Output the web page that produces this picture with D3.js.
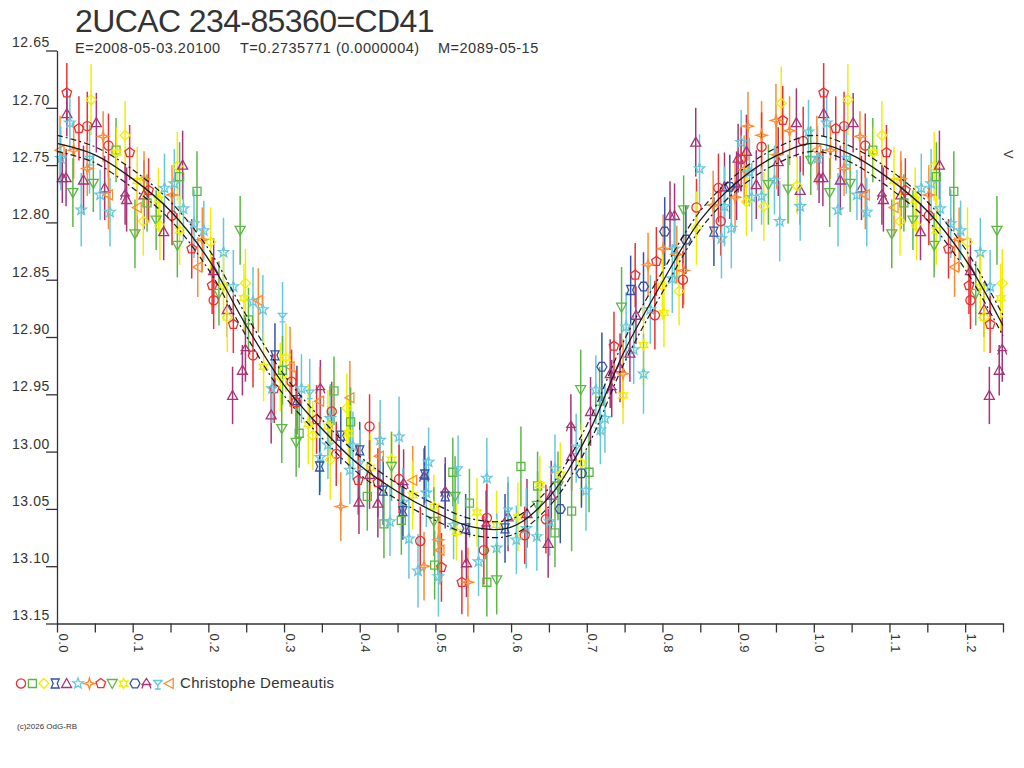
<!DOCTYPE html>
<html>
<head>
<meta charset="utf-8">
<script src="https://cdn.jsdelivr.net/npm/d3@7"></script>
<style>
body { margin: 0; background: #fff; }
text { font-family: "Liberation Sans", Arial, sans-serif; fill: #333; }
</style>
</head>
<body>
<div id="chart"></div>
<script>
// phase / magnitude / error / observation set, read off the picture
// phase 0.00 - 0.32
var phaseA = [.013,.045,.013,.017,.029,.040,.052,.061,.090,.068,
              .078,.079,.096,.022,.004,.005,.043,.040,.007,.012,
              .035,.048,.063,.057,.068,.090,.092,.021,.032,.070,
              .103,.106,.115,.115,.106,.121,.119,.114,.142,.134,
              .152,.155,.159,.166,.162,.185,.167,.152,.131,.136,
              .141,.159,.162,.178,.181,.203,.192,.242,.194,.186,
              .220,.207,.205,.249,.214,.220,.233,.207,.225,.225,
              .233,.247,.259,.266,.272,.298,.253,.249,.259,.288,
              .232,.245,.273,.287,.283,.295,.284,.317];
var magA = [12.687,12.693,12.705,12.713,12.718,12.716,12.713,12.725,12.724,12.733,
            12.737,12.739,12.739,12.737,12.737,12.744,12.745,12.753,12.761,12.761,
            12.763,12.766,12.770,12.776,12.776,12.776,12.780,12.774,12.789,12.791,
            12.810,12.787,12.776,12.762,12.764,12.772,12.783,12.799,12.770,12.780,
            12.776,12.766,12.751,12.750,12.760,12.773,12.788,12.794,12.798,12.803,
            12.808,12.820,12.807,12.823,12.801,12.817,12.815,12.807,12.807,12.839,
            12.826,12.842,12.855,12.853,12.862,12.856,12.856,12.868,12.876,12.883,
            12.889,12.866,12.869,12.868,12.876,12.882,12.885,12.911,12.916,12.916,
            12.951,12.929,12.926,12.945,12.968,12.935,12.945,12.955];
var errA = [.026,.031,.020,.024,.028,.030,.026,.022,.030,.028,
            .028,.022,.024,.025,.030,.028,.030,.024,.022,.025,
            .030,.025,.028,.022,.030,.026,.028,.030,.032,.030,
            .030,.025,.030,.024,.030,.028,.025,.030,.030,.028,
            .026,.030,.030,.030,.030,.035,.028,.026,.026,.030,
            .025,.028,.030,.026,.030,.030,.028,.030,.026,.026,
            .030,.028,.025,.030,.028,.030,.032,.025,.024,.030,
            .025,.030,.030,.028,.030,.030,.028,.028,.028,.028,
            .025,.022,.030,.030,.025,.030,.030,.030];
var setA = [7,2,4,5,7,0,4,6,2,0,
            1,9,7,6,13,5,12,6,4,4,
            4,8,4,5,13,11,4,8,5,5,
            8,13,4,6,9,7,1,2,5,9,
            6,5,2,4,1,1,5,0,8,2,
            4,8,9,7,5,2,6,8,5,13,
            5,4,7,2,8,9,5,0,4,2,
            7,9,5,13,5,12,1,11,0,3,
            4,4,9,7,4,2,5,3];

// phase 0.30 - 0.65
var phaseB = [.3025,.308,.298,.310,.323,.334,.316,.348,.366,.347,
              .387,.363,.383,.388,.361,.332,.343,.297,.320,.316,
              .338,.358,.413,.375,.385,.358,.391,.400,.427,.452,
              .348,.347,.369,.361,.387,.400,.426,.414,.442,.442,
              .491,.485,.486,.523,.530,.568,.613,.398,.413,.452,
              .458,.470,.424,.431,.410,.399,.424,.375,.470,.488,
              .513,.513,.526,.457,.457,.545,.498,.555,.455,.498,
              .432,.440,.524,.528,.540,.568,.567,.581,.596,.609,
              .621,.592,.596,.620,.618,.607,.634,.646,.635,.638,
              .635,.649,.465,.480,.504,.506,.508,.499,.485,.477,
              .504,.564,.581,.541,.557,.535,.543,.568,.581];
var magB = [12.918,12.926,12.929,12.939,12.945,12.949,12.957,12.945,12.947,12.956,
            12.953,12.965,12.962,12.974,12.971,12.976,12.972,12.980,12.984,12.992,
            12.986,12.978,12.978,12.986,12.984,12.994,12.995,12.999,12.990,12.987,
            13.005,13.013,13.002,13.007,13.016,13.011,13.004,13.014,13.007,13.013,
            13.009,13.022,13.020,13.018,13.016,13.023,13.013,13.025,13.020,13.024,
            13.028,13.025,13.027,13.034,13.039,13.044,13.045,13.048,13.038,13.036,
            13.035,13.039,13.039,13.044,13.052,13.045,13.048,13.053,13.060,13.061,
            13.063,13.061,13.064,13.070,13.067,13.058,13.064,13.064,13.057,13.057,
            13.054,13.067,13.052,13.067,13.073,13.077,13.074,13.059,13.030,13.029,
            13.047,13.080,13.076,13.078,13.077,13.086,13.101,13.099,13.100,13.104,
            13.109,13.086,13.084,13.097,13.096,13.114,13.114,13.114,13.112];
var errB = [.030,.035,.030,.028,.030,.030,.028,.025,.030,.030,
            .032,.026,.030,.030,.030,.035,.030,.030,.030,.030,
            .030,.032,.028,.025,.030,.030,.030,.025,.035,.035,
            .030,.025,.028,.035,.030,.030,.030,.030,.025,.030,
            .030,.025,.025,.030,.030,.035,.035,.030,.030,.030,
            .030,.030,.030,.030,.030,.028,.030,.030,.030,.030,
            .030,.028,.035,.030,.025,.030,.028,.030,.030,.030,
            .030,.030,.030,.025,.030,.030,.030,.030,.030,.030,
            .030,.030,.030,.035,.025,.030,.030,.030,.030,.025,
            .030,.030,.035,.030,.030,.030,.030,.030,.030,.032,
            .035,.030,.030,.030,.030,.028,.030,.030,.030];
var setB = [9,13,1,0,5,12,0,11,1,13,
            13,0,2,1,5,9,7,8,1,8,
            2,9,0,3,9,5,5,3,5,5,
            5,3,0,2,5,12,13,9,9,8,
            5,11,3,1,12,5,1,7,4,0,
            11,13,7,3,1,4,4,6,9,5,
            11,3,8,5,3,1,9,9,1,8,
            1,5,5,9,3,0,11,9,4,9,
            4,3,12,5,0,5,5,0,1,9,
            8,4,5,0,6,13,7,1,6,5,
            5,0,5,4,5,7,6,1,8];

// phase 0.65 - 0.85 (rising branch)
var phaseC = [.828,.816,.810,.845,.803,.845,.831,.816,.801,.819,
              .792,.781,.828,.827,.822,.813,.764,.800,.775,.758,
              .746,.802,.784,.765,.790,.752,.736,.775,.762,.757,
              .720,.775,.744,.748,.731,.733,.692,.712,.748,.717,
              .705,.724,.679,.718,.686,.680,.693,.703,.693,.658,
              .665,.699,.662,.653,.665,.680,.651,.658];
var magC = [12.789,12.794,12.794,12.787,12.808,12.805,12.815,12.823,12.823,12.828,
            12.834,12.837,12.842,12.850,12.860,12.849,12.846,12.855,12.856,12.859,
            12.874,12.879,12.876,12.881,12.881,12.891,12.908,12.907,12.911,12.914,
            12.926,12.932,12.927,12.932,12.932,12.945,12.946,12.946,12.951,12.956,
            12.965,12.971,12.978,12.981,12.997,13.004,13.010,13.018,13.019,13.015,
            13.020,13.034,13.030,13.038,13.050,13.052,13.061,13.071];
var errC = [.030,.028,.030,.025,.030,.032,.030,.028,.030,.025,
            .030,.028,.030,.025,.030,.030,.028,.030,.030,.030,
            .035,.030,.030,.025,.030,.030,.030,.035,.030,.025,
            .030,.035,.030,.030,.030,.025,.035,.030,.025,.030,
            .030,.030,.028,.030,.030,.030,.035,.035,.030,.030,
            .028,.035,.030,.030,.030,.035,.030,.030];
var setC = [8,4,4,0,10,2,10,5,6,6,
            7,6,6,0,2,5,7,2,10,3,
            8,9,5,4,0,5,7,9,5,4,
            10,5,4,6,4,11,8,5,9,1,
            4,5,11,5,12,4,9,1,10,5,
            9,5,8,4,10,1,5,1];

// phase 0.84 - 1.00 (maximum)
var phaseD = [.957,.959,.977,.950,.913,.968,.904,.931,.931,.911,
              .844,.900,.904,.953,.951,.986,.993,.908,.915,.996,
              .849,.898,.940,.924,.966,.982,.978,.874,.882,.889,
              .948,.918,.911,.896,.882,.934,.931,.982,.955,.877,
              .891,.878,.868,.867];
var magD = [12.696,12.711,12.713,12.711,12.716,12.720,12.730,12.724,12.734,12.738,
            12.730,12.744,12.745,12.747,12.741,12.729,12.721,12.754,12.756,12.746,
            12.753,12.768,12.767,12.767,12.771,12.772,12.768,12.770,12.769,12.769,
            12.763,12.778,12.782,12.778,12.786,12.786,12.777,12.786,12.799,12.799,
            12.805,12.814,12.808,12.785];
var errD = [.032,.030,.030,.032,.030,.030,.028,.030,.030,.032,
            .030,.030,.028,.030,.030,.030,.028,.030,.030,.030,
            .030,.030,.035,.030,.030,.030,.025,.030,.030,.028,
            .030,.030,.030,.030,.035,.030,.025,.030,.035,.030,
            .035,.035,.030,.030];
var setD = [2,7,4,6,6,6,5,6,0,4,
            4,4,0,4,6,0,5,13,5,8,
            5,11,8,4,8,4,2,0,4,10,
            5,5,2,6,5,2,5,5,5,0,
            5,5,3,6];

// fitted light curve and its band
var curvePhase = [0,.05,.10,.15,.20,.25,.30,.35,.40,.45,.50,.55,.60,.65,.70,.75,.80,.85,.90,.95,1.00];
var curveMag = [12.731,12.741,12.762,12.790,12.832,12.890,12.942,12.980,13.012,13.035,13.053,
                13.066,13.066,13.040,12.987,12.912,12.852,12.798,12.764,12.742,12.731];
var curveBand = [.007,.007,.008,.008,.009,.009,.009,.008,.008,.007,.007,
                 .007,.007,.008,.010,.010,.009,.008,.007,.007,.007];

var setColors = ["#ee3030", "#5cb845", "#f2ee00", "#3352a8", "#a83378", "#66c8dc", "#ff8a30"];
var yTicks = [12.65, 12.70, 12.75, 12.80, 12.85, 12.90, 12.95, 13.00, 13.05, 13.10, 13.15];
var xTicks = [0,.05,.1,.15,.2,.25,.3,.35,.4,.45,.5,.55,.6,.65,.7,.75,.8,.85,.9,.95,1,1.05,1.1,1.15,1.2,1.25];
var xLabels = [0,.1,.2,.3,.4,.5,.6,.7,.8,.9,1,1.1,1.2];

var svg = d3.select("#chart")
    .append("svg")
    .attr("width", 1024)
    .attr("height", 768);

var xScale = d3.scaleLinear().domain([0, 1.25]).range([57, 1003]);
var yScale = d3.scaleLinear().domain([12.65, 13.15]).range([50.5, 623.5]);

// marker shapes
function ring(n, r, off) {
    var pts = d3.range(n).map(function (k) {
        var a = off + k * 2 * Math.PI / n;
        return [(r * Math.sin(a)).toFixed(2), (-r * Math.cos(a)).toFixed(2)];
    });
    return "M" + pts.join("L") + "Z";
}
function star(n, r1, r2) {
    var pts = d3.range(2 * n).map(function (k) {
        var a = k * Math.PI / n, r = k % 2 ? r2 : r1;
        return [(r * Math.sin(a)).toFixed(2), (-r * Math.cos(a)).toFixed(2)];
    });
    return "M" + pts.join("L") + "Z";
}
var shapes = [
    "M4.6,0A4.6,4.6 0 1,1 -4.6,0A4.6,4.6 0 1,1 4.6,0Z",
    "M-4,-4H4V4H-4Z",
    "M0,-5L5,0L0,5L-5,0Z",
    "M-4,-4.5H4L2,0L4,4.5H-4L-2,0Z",
    "M0,-5L5,4H-5Z",
    star(5, 5.5, 2.3),
    star(4, 5.5, 1.8),
    ring(5, 5, 0),
    "M0,5L5,-4H-5Z",
    star(6, 5, 2.6),
    ring(6, 5, Math.PI / 6),
    "M0,-5L4,1H-4Z M-5,1H5 M-3,1L-4.5,5 M3,1L4.5,5",
    "M-5,-3H5 M-4,-3L0,2L4,-3 M0,2V5.5 M-3,5.5H3",
    "M-5,0L4,-5V5Z"
];

// build the rows and repeat phases 0-0.25 beyond 1.0
var phase = phaseA.concat(phaseB, phaseC, phaseD);
var mag = magA.concat(magB, magC, magD);
var err = errA.concat(errB, errC, errD);
var obsSet = setA.concat(setB, setC, setD);

var obs = phase.map(function (p, i) {
    return { phase: p, mag: mag[i], err: err[i], set: obsSet[i] };
});
obs = obs.concat(obs.filter(function (d) { return d.phase + 1 <= 1.25; })
    .map(function (d) { return { phase: d.phase + 1, mag: d.mag, err: d.err, set: d.set }; }));

var curveRows = curvePhase.map(function (p, i) {
    return { phase: p, mag: curveMag[i], band: curveBand[i] };
});
curveRows = curveRows.concat(curveRows.filter(function (d) { return d.phase > 0 && d.phase <= 0.25; })
    .map(function (d) { return { phase: d.phase + 1, mag: d.mag, band: d.band }; }));

// error bars and markers
var pointsGroup = svg.append("g");
pointsGroup.selectAll("line")
    .data(obs)
    .enter()
    .append("line")
    .attr("x1", d => xScale(d.phase))
    .attr("x2", d => xScale(d.phase))
    .attr("y1", d => yScale(d.mag - d.err))
    .attr("y2", d => yScale(d.mag + d.err))
    .attr("stroke", d => setColors[d.set % 7])
    .attr("stroke-width", 1.5);

pointsGroup.selectAll("path")
    .data(obs)
    .enter()
    .append("path")
    .attr("d", d => shapes[d.set])
    .attr("transform", d => `translate(${xScale(d.phase)},${yScale(d.mag)})`)
    .attr("fill", "none")
    .attr("stroke", d => setColors[d.set % 7])
    .attr("stroke-width", 1.3);

// fitted curve
var lineMid = d3.line().x(d => xScale(d.phase)).y(d => yScale(d.mag)).curve(d3.curveCatmullRom);
var lineUp = d3.line().x(d => xScale(d.phase)).y(d => yScale(d.mag - d.band)).curve(d3.curveCatmullRom);
var lineLow = d3.line().x(d => xScale(d.phase)).y(d => yScale(d.mag + d.band)).curve(d3.curveCatmullRom);

svg.append("path").datum(curveRows).attr("d", lineMid)
    .attr("fill", "none").attr("stroke", "#1a1a1a").attr("stroke-width", 1.3);
[lineUp, lineLow].forEach(function (gen) {
    svg.append("path").datum(curveRows).attr("d", gen)
        .attr("fill", "none").attr("stroke", "#1a1a1a").attr("stroke-width", 1.2)
        .attr("stroke-dasharray", "6,3,2,3");
});

// axes
var leftAxis = d3.axisLeft(yScale)
    .tickValues(yTicks)
    .tickSize(11)
    .tickSizeOuter(0)
    .tickPadding(-4)
    .tickFormat(d3.format(".2f"));

var yAxisG = svg.append("g")
    .attr("transform", "translate(57,0)")
    .call(leftAxis);
yAxisG.selectAll("text").attr("y", -8).style("font-size", "14px").style("letter-spacing", "0.6px");

var bottomAxis = d3.axisBottom(xScale)
    .tickValues(xTicks)
    .tickSize(9)
    .tickSizeOuter(0)
    .tickFormat(function (d) {
        return xLabels.some(function (v) { return Math.abs(v - d) < 1e-6; }) ? d3.format(".1f")(d) : "";
    });

var xAxisG = svg.append("g")
    .attr("transform", "translate(0,623.5)")
    .call(bottomAxis);
xAxisG.selectAll("text")
    .attr("x", 10)
    .attr("y", -1)
    .attr("dy", null)
    .attr("transform", "rotate(90)")
    .attr("text-anchor", "start")
    .style("font-size", "13px")
    .style("letter-spacing", "0.5px");

svg.selectAll(".domain, .tick line").attr("stroke", "#333").attr("stroke-width", 1.3);
svg.selectAll(".tick text").attr("fill", "#333").style("font-family", "'Liberation Sans', Arial, sans-serif");

// band label on the right
svg.append("text")
    .attr("transform", "translate(1004,150) rotate(90)")
    .style("font-size", "13px")
    .text("V");

// titles
svg.append("text")
    .attr("x", 75)
    .attr("y", 32)
    .style("font-size", "32px")
    .style("letter-spacing", "-0.6px")
    .text("2UCAC 234-85360=CD41");

var subtitle = [["E=2008-05-03.20100", 75], ["T=0.2735771 (0.0000004)", 240], ["M=2089-05-15", 438]];
subtitle.forEach(function (s) {
    svg.append("text")
        .attr("x", s[1])
        .attr("y", 53)
        .style("font-size", "14.5px")
        .style("letter-spacing", "0.5px")
        .text(s[0]);
});

// legend
var legend = svg.append("g");
shapes.forEach(function (s, i) {
    legend.append("path")
        .attr("d", s)
        .attr("transform", `translate(${21 + i * 11.4},683.5)`)
        .attr("fill", "none")
        .attr("stroke", setColors[i % 7])
        .attr("stroke-width", 1.3);
});
legend.append("text")
    .attr("x", 180)
    .attr("y", 688)
    .style("font-size", "15px")
    .style("letter-spacing", "0.3px")
    .text("Christophe Demeautis");

svg.append("text")
    .attr("x", 17)
    .attr("y", 729)
    .style("font-size", "8px")
    .text("(c)2026 OdG-RB");
</script>
</body>
</html>
